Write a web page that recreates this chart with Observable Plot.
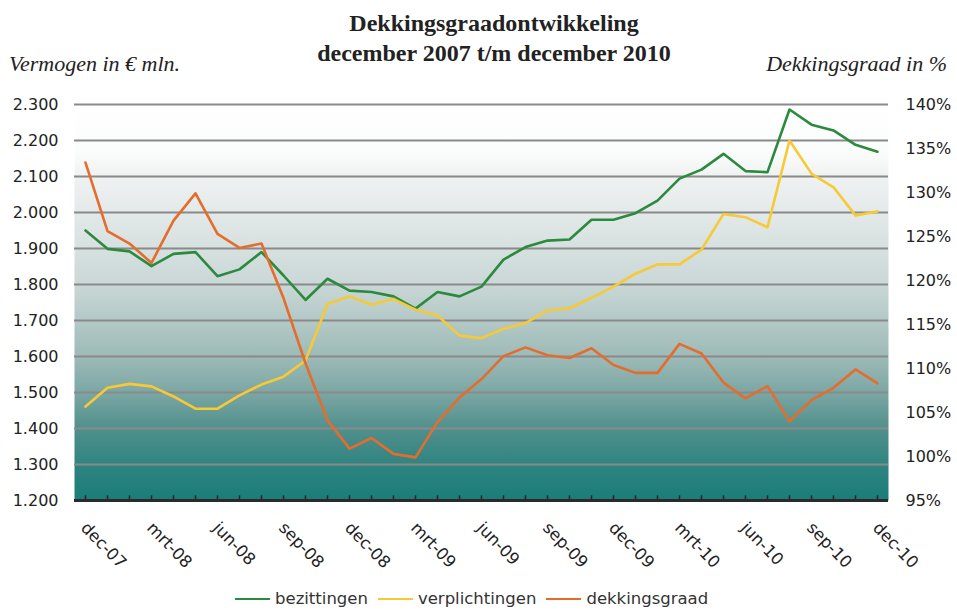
<!DOCTYPE html>
<html>
<head>
<meta charset="utf-8">
<script src="https://cdn.jsdelivr.net/npm/d3@7"></script>
<script src="https://cdn.jsdelivr.net/npm/@observablehq/plot@0.6"></script>
<style>
  body { margin: 0; background: #fff; }
  #wrap { position: relative; width: 957px; height: 610px; font-family: "DejaVu Sans", sans-serif; color: #222; overflow: hidden; }
  .ttl { position: absolute; left: 494px; transform: translateX(-50%); white-space: nowrap;
         font-family: "Liberation Serif", serif; font-weight: bold; font-size: 24px; line-height: 24px; color: #222; }
  .axt { position: absolute; white-space: nowrap; font-family: "Liberation Serif", serif; font-style: italic;
         font-size: 22px; line-height: 22px; color: #222; }
  #chart { position: absolute; left: 0; top: 82px; }
  #legend { position: absolute; left: 235px; top: 590px; display: flex; align-items: center;
            font-size: 16.5px; line-height: 18px; color: #333; }
  #legend .sw { width: 35px; height: 2.5px; margin-right: 5px; }
  #legend .lb { margin-right: 10px; }
</style>
</head>
<body>
<div id="wrap">
  <div class="ttl" style="top:11px">Dekkingsgraadontwikkeling</div>
  <div class="ttl" style="top:41px">december 2007 t/m december 2010</div>
  <div class="axt" style="left:9px; top:53px">Vermogen in € mln.</div>
  <div class="axt" style="right:10px; top:53px">Dekkingsgraad in %</div>
  <div id="chart"></div>
  <div id="legend"></div>
</div>
<script>
// ---- data ----
const months = ["dec-07","jan-08","feb-08","mrt-08","apr-08","mei-08","jun-08","jul-08","aug-08","sep-08","okt-08","nov-08",
  "dec-08","jan-09","feb-09","mrt-09","apr-09","mei-09","jun-09","jul-09","aug-09","sep-09","okt-09","nov-09",
  "dec-09","jan-10","feb-10","mrt-10","apr-10","mei-10","jun-10","jul-10","aug-10","sep-10","okt-10","nov-10","dec-10"];
const tickLabels = ["dec-07","mrt-08","jun-08","sep-08","dec-08","mrt-09","jun-09","sep-09","dec-09","mrt-10","jun-10","sep-10","dec-10"];
const leftTicks = [1200,1300,1400,1500,1600,1700,1800,1900,2000,2100,2200,2300];
const rightTicks = [95,100,105,110,115,120,125,130,135,140];
const bezittingen = [1950,1899,1892,1851,1885,1890,1823,1842,1890,1825,1757,1816,1783,1779,1767,1733,1779,1767,1794,1869,1904,1922,1925,1980,1980,1998,2033,2094,2119,2163,2115,2112,2286,2244,2228,2188,2169];
const verplichtingen = [1461,1513,1524,1517,1489,1455,1455,1492,1522,1544,1589,1746,1767,1744,1760,1730,1714,1658,1651,1677,1693,1728,1734,1763,1794,1830,1856,1856,1897,1996,1987,1959,2200,2108,2070,1992,2003];
const dekkingsgraad = [133.4,125.6,124.2,122.0,126.8,129.9,125.3,123.7,124.2,118.0,110.6,104.1,100.9,102.1,100.3,99.9,103.9,106.7,108.8,111.4,112.4,111.5,111.2,112.3,110.4,109.5,109.5,112.8,111.7,108.4,106.6,108.0,104.0,106.4,107.8,109.9,108.3];
const seriesNames = ["bezittingen","verplichtingen","dekkingsgraad"];
const seriesColors = ["#2b8a3e","#f6c935","#e56d2c"];

// right axis (%) mapped onto left axis units
const toLeft = p => 1200 + (p - 95) * (1100 / 45);
const fromLeft = v => 95 + (v - 1200) * (45 / 1100);

const rows = months.map((m, i) => ({
  month: m,
  bez: bezittingen[i],
  ver: verplichtingen[i],
  dek: toLeft(dekkingsgraad[i])
}));

const svg = Plot.plot({
  width: 957,
  height: 503,
  marginTop: 22,
  marginBottom: 85,
  marginLeft: 74,
  marginRight: 69,
  style: "font-family: 'DejaVu Sans', sans-serif; font-size: 16px; color: #222; background: transparent; overflow: visible;",
  x: { type: "point", domain: months, padding: 0, axis: null },
  y: { domain: [1200, 2300], axis: null },
  marks: [
    Plot.frame({ fill: "url(#bgGrad)", stroke: "none" }),
    Plot.ruleY(leftTicks.slice(1), { stroke: "#8a8a8a", strokeWidth: 2 }),
    Plot.ruleX(months, { x: d => d, y1: 1200, y2: 1213, stroke: "#222", strokeWidth: 1.5 }),
    Plot.ruleY([1200], { stroke: "#2a2a2a", strokeWidth: 3 }),
    Plot.axisY(leftTicks, { anchor: "left", tickSize: 0, tickPadding: 16, tickFormat: d => (d / 1000).toFixed(3) }),
    Plot.axisY(rightTicks.map(toLeft), { anchor: "right", tickSize: 0, tickPadding: 17, tickFormat: d => Math.round(fromLeft(d)) + "%" }),
    Plot.text(tickLabels, { x: d => d, frameAnchor: "bottom", rotate: 46, textAnchor: "start", lineAnchor: "top", dx: 3, dy: 20, fill: "#222", fontSize: 16.5 }),
    Plot.line(rows, { x: "month", y: "bez", stroke: seriesColors[0], strokeWidth: 2.6 }),
    Plot.line(rows, { x: "month", y: "ver", stroke: seriesColors[1], strokeWidth: 2.6 }),
    Plot.line(rows, { x: "month", y: "dek", stroke: seriesColors[2], strokeWidth: 2.6 })
  ]
});

// gradient background of plot area
const defs = d3.select(svg).insert("defs", ":first-child");
const grad = defs.append("linearGradient").attr("id", "bgGrad")
  .attr("x1", 0).attr("y1", 0).attr("x2", 0).attr("y2", 1);
[[0, "#ffffff"], [0.12, "#fbfcfc"], [0.18, "#f0f2f2"], [0.45, "#cad8d7"], [0.64, "#9cbab7"],
 [0.73, "#7aa6a3"], [0.82, "#508f8c"], [0.92, "#2b837f"], [1, "#1a7d79"]]
  .forEach(([o, c]) => grad.append("stop").attr("offset", o).attr("stop-color", c));

document.getElementById("chart").appendChild(svg);

// legend
const lg = d3.select("#legend");
seriesNames.forEach((n, i) => {
  lg.append("div").attr("class", "sw").style("background", seriesColors[i]);
  lg.append("div").attr("class", "lb").text(n);
});
</script>
</body>
</html>
